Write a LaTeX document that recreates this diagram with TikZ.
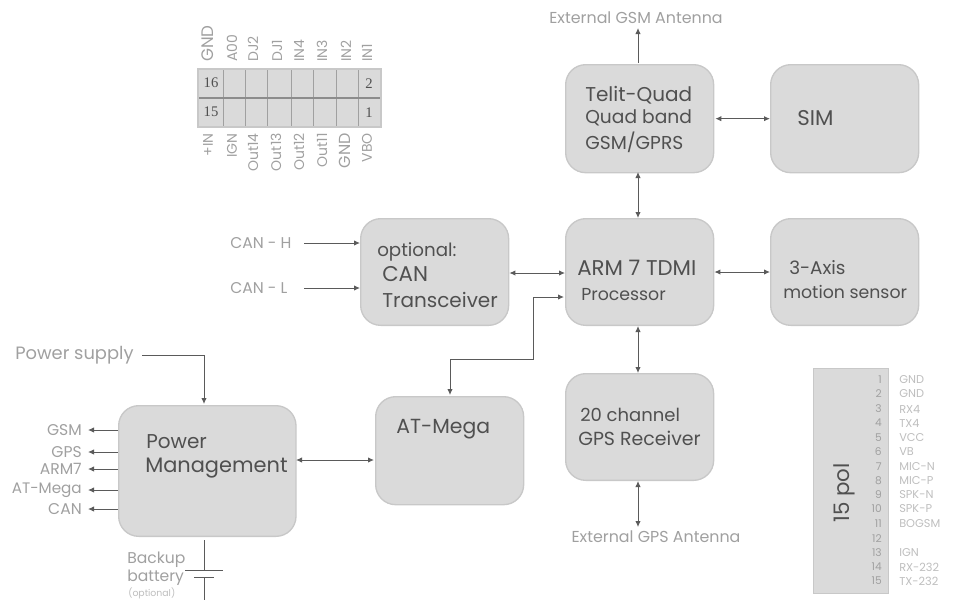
\documentclass[tikz,border=0pt]{standalone}
\usepackage{fontspec}
\setmainfont{Poppins}
\newfontfamily\cellserif{Liberation Serif}
\usetikzlibrary{arrows.meta}
\definecolor{boxfill}{HTML}{DADADA}
\definecolor{boxline}{HTML}{C8C8C8}
\definecolor{ink}{HTML}{505050}
\definecolor{wirec}{HTML}{5A5A5A}
\definecolor{pale}{HTML}{A0A0A0}
\definecolor{paler}{HTML}{BEBEBE}
\tikzset{
  x=0.75pt,y=-0.75pt,
  block/.style={draw=boxline,line width=1pt,fill=boxfill,rounded corners=15pt,anchor=north west,inner sep=0pt},
  wire/.style={draw=wirec,line width=0.7pt,-{Latex[length=4.5pt,width=4pt]}},
  dwire/.style={draw=wirec,line width=0.7pt,{Latex[length=4.5pt,width=4pt]}-{Latex[length=4.5pt,width=4pt]}},
  plain/.style={draw=wirec,line width=0.7pt},
  txt/.style={font=\fontsize{#1pt}{#1pt}\selectfont,text=ink,inner sep=0pt,anchor=west},
  lab/.style={font=\fontsize{#1pt}{#1pt}\selectfont,text=pale,inner sep=0pt},
  pin/.style={font=\fontsize{#1pt}{#1pt}\selectfont,text=pale,inner sep=0pt,rotate=90},
  num/.style={font=\fontsize{8pt}{8pt}\selectfont,text=pale,inner sep=0pt,anchor=east},
  sig/.style={font=\fontsize{8.5pt}{8.5pt}\selectfont,text=paler,inner sep=0pt,anchor=west},
  cell/.style={font=\cellserif\fontsize{11pt}{11pt}\selectfont,text=ink,inner sep=0pt},
}
\begin{document}
\begin{tikzpicture}
\useasboundingbox (0,0) rectangle (954,601);
% blocks
\node[block,minimum width=111pt,minimum height=81pt] (telit) at (565,64) {};
\node[block,minimum width=111pt,minimum height=81pt] (sim) at (770,64) {};
\node[block,minimum width=111pt,minimum height=80pt] (can) at (360,218) {};
\node[block,minimum width=111pt,minimum height=80pt] (arm) at (565,218) {};
\node[block,minimum width=111pt,minimum height=80pt] (axis) at (770,218) {};
\node[block,minimum width=111pt,minimum height=80pt] (gps) at (565,373) {};
\node[block,minimum width=111pt,minimum height=81pt] (mega) at (375,396) {};
\node[block,minimum width=133pt,minimum height=98pt] (pm) at (118,405) {};
% block texts
\node[txt=15] (t1) at (585,95) {Telit-Quad};
\node[txt=14] (t2) at (585,118) {Quad band};
\node[txt=14] (t3) at (585,142) {GSM/GPRS};
\node[txt=16] (simt) at (797,118) {SIM};
\node[txt=13.7] (c1) at (377,252) {optional:};
\node[txt=16] (c2) at (382,274) {CAN};
\node[txt=15] (c3) at (382,300) {Transceiver};
\node[txt=16] (a1) at (577,268) {ARM 7 TDMI};
\node[txt=13] (a2) at (581,295) {Processor};
\node[txt=13.8] (x1) at (789,268) {3-Axis};
\node[txt=13] (x2) at (783,292) {motion sensor};
\node[txt=13.5] (g1) at (580,415) {20 channel};
\node[txt=14.2] (g2) at (578,438) {GPS Receiver};
\node[txt=15.3] (m1) at (396,429) {AT-Mega};
\node[txt=15] (p1) at (146,442) {Power};
\node[txt=15.7] (p2) at (145,468) {Management};
% free labels
\node[lab=11.9] (gsmant) at (636,18) {External GSM Antenna};
\node[lab=11.9] (gpsant) at (656,537) {External GPS Antenna};
\node[lab=11.7,anchor=west] (canh) at (230,243) {CAN - H};
\node[lab=11.7,anchor=west] (canl) at (230,288) {CAN - L};
\node[lab=13.4,anchor=west] (supply) at (15,355) {Power supply};
\node[lab=11.7,anchor=east] (lgsm) at (82,430) {GSM};
\node[lab=11.7,anchor=east] (lgps) at (82,452) {GPS};
\node[lab=11.7,anchor=east] (larm) at (82,469) {ARM7};
\node[lab=11.4,anchor=east] (lat) at (82,490) {AT-Mega};
\node[lab=11.7,anchor=east] (lcan) at (82,509) {CAN};
\node[lab=11.7,anchor=west] (bk1) at (127,560) {Backup};
\node[lab=11.7,anchor=west] (bk2) at (127,578) {battery};
\node[lab=7,anchor=west,text=paler] (bk3) at (128,593) {(optional)};
% free wire ends
\coordinate (gsmtop) at (638,28);
\coordinate (gsmfoot) at (638,63);
\coordinate (gpsbot) at (638,527);
\coordinate (vup) at (638,172);
\coordinate (hstart) at (304,243);
\coordinate (lstart) at (304,288);
\coordinate (sstart) at (142,355);
\coordinate (sbend) at (204,355);
\coordinate (pmtop) at (204,404);
\coordinate (b0) at (204,540);
\coordinate (b1) at (204,570);
\coordinate (b2) at (204,577);
\coordinate (b3) at (204,600);
\coordinate (pmE) at (296,460);
\coordinate (megaW) at (374,460);
\coordinate (armW2) at (564,297);
\coordinate (bendA) at (533,297);
\coordinate (bendB) at (533,359);
\coordinate (bendC) at (450,359);
\coordinate (megaT) at (450,395);
% wires
\draw[wire] (gsmfoot) -- (gsmtop);
\draw[dwire] (vup) -- (arm.north -| vup);
\draw[dwire] (telit.east) ++(1,0) -- (sim.west);
\draw[dwire] (can.east |- 0,273) -- (arm.west |- 0,273);
\draw[dwire] (arm.east |- 0,272) -- (axis.west |- 0,272);
\draw[dwire] (arm.south -| vup) -- (gps.north -| vup);
\draw[dwire] (gps.south -| vup) -- (gpsbot);
\draw[wire] (hstart) -- (can.west |- hstart);
\draw[wire] (lstart) -- (can.west |- lstart);
\draw[wire] (sstart) -- (sbend) -- (pmtop);
\draw[dwire] (pmE) -- (megaW);
\draw[dwire] (armW2) -- (bendA) -- (bendB) -- (bendC) -- (megaT);
\foreach \y in {430,452,469,490,509}{
  \draw[wire] (118,\y) -- (88,\y);
}
\draw[plain] (b0) -- (b1);
\draw[plain] (b2) -- (b3);
\draw[plain] (185,570) -- (223,570);
\draw[plain] (194,577) -- (214,577);
% connector table
\fill[boxfill] (198,69) rectangle (381,127);
\foreach \xx in {223,245,267,291,313,336,358}{\draw[boxline!80!black,line width=0.7pt] (\xx,69) -- (\xx,127);}
\draw[boxline!70!black,line width=0.9pt] (198,98) -- (381,98);
\draw[boxline,line width=0.8pt] (198,69) rectangle (381,127);
\node[cell] (n16) at (211,83) {16};
\node[cell] (n15) at (211,112) {15};
\node[cell] (n2) at (369,84) {2};
\node[cell] (n1) at (369,113) {1};
\foreach \xx/\s/\t in {208/12.5/GND,232/10.5/A00,253/10.5/DJ2,277/10.5/DJ1,299/10.5/IN4,322/10.5/IN3,346/10.5/IN2,367/10.5/IN1}{
  \node[pin=\s,anchor=west] at (\xx,62) {\t};
}
\foreach \xx/\s/\t in {208/10.5/+IN,232/10.5/IGN,253/10.5/Out14,276/10.5/Out13,299/10.5/Out12,322/10.5/Out11,345/12/GND,367/10.5/VBO}{
  \node[pin=\s,anchor=east] at (\xx,133) {\t};
}
% 15 pol
\node[draw=boxline,line width=1pt,fill=boxfill,anchor=north west,minimum width=56pt,minimum height=168.5pt,inner sep=0pt] (pol) at (813,368) {};
\node[txt=16,rotate=90,anchor=center] (polt) at (844,493) {15 pol};
\foreach \i/\y/\t in {1/380/GND,2/394/GND,3/409/RX4,4/423/TX4,5/438/VCC,6/452/VB,7/467/MIC-N,8/481/MIC-P,9/495/SPK-N,10/509/SPK-P,11/524/BOGSM,12/539/,13/553/IGN,14/567/RX-232,15/581/TX-232}{
  \node[num] at (882,\y) {\i};
  \node[sig] at (899,\y) {\t};
}
\end{tikzpicture}
\end{document}
